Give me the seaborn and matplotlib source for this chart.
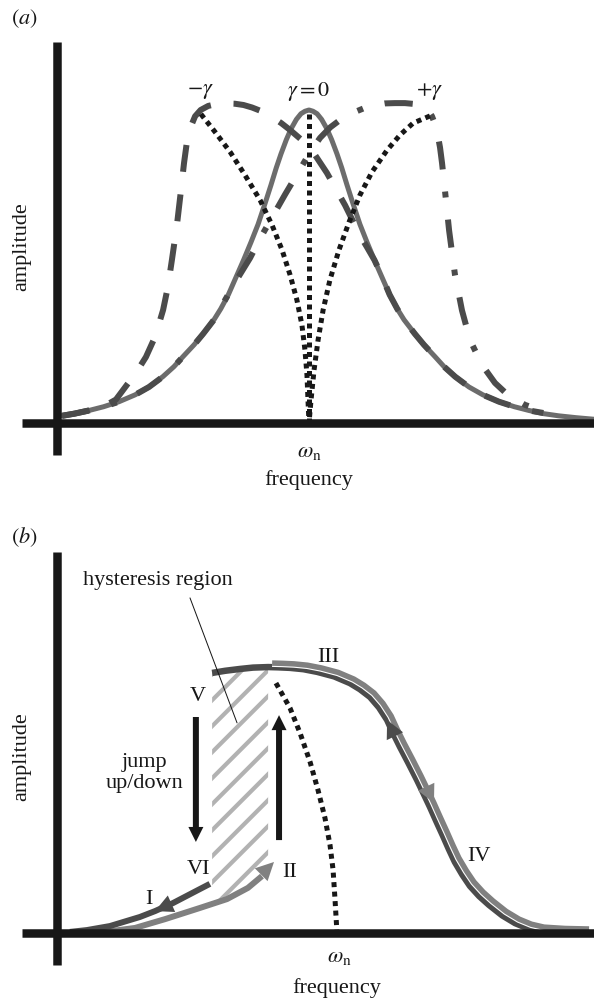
import numpy as np
import matplotlib
matplotlib.use("Agg")
import matplotlib.pyplot as plt
import matplotlib.transforms as mtransforms
from matplotlib import patheffects as pe
from matplotlib.patches import Polygon
from matplotlib.lines import Line2D
import seaborn as sns

# ---------------- (a) resonance curves: linear, softening, hardening ----------------
# frequency in units of the natural frequency, amplitude in units of the linear peak
lin_freq = [0.02, 0.07, 0.127, 0.185, 0.246, 0.31, 0.365, 0.42, 0.464, 0.50,
            0.544, 0.58, 0.623, 0.65, 0.68, 0.71, 0.74, 0.77, 0.798, 0.825,
            0.849, 0.87, 0.889, 0.91, 0.929, 0.95, 0.968, 0.984, 1.0,
            1.016, 1.032, 1.05, 1.071, 1.09, 1.111, 1.13, 1.151, 1.175, 1.202,
            1.23, 1.26, 1.29, 1.32, 1.35, 1.377, 1.42, 1.456, 1.50, 1.536,
            1.58, 1.635, 1.69, 1.754, 1.815, 1.873, 1.93, 1.99, 2.06, 2.13]
lin_amp = [0.023, 0.030, 0.040, 0.052, 0.068, 0.090, 0.115, 0.148, 0.180, 0.212,
           0.250, 0.285, 0.330, 0.365, 0.410, 0.465, 0.520, 0.578, 0.635, 0.700,
           0.760, 0.815, 0.860, 0.905, 0.940, 0.970, 0.988, 0.996, 1.0,
           0.996, 0.988, 0.970, 0.940, 0.905, 0.860, 0.815, 0.760, 0.700, 0.635,
           0.578, 0.520, 0.465, 0.410, 0.365, 0.330, 0.285, 0.250, 0.212, 0.180,
           0.148, 0.115, 0.090, 0.068, 0.052, 0.040, 0.030, 0.023, 0.017, 0.012]

soft_freq = [0.02, 0.07, 0.127, 0.179, 0.234, 0.286, 0.325, 0.353, 0.389, 0.421,
             0.440, 0.456, 0.476, 0.492, 0.504, 0.515, 0.530, 0.548, 0.570, 0.600,
             0.627, 0.665, 0.706, 0.740, 0.774, 0.815, 0.853, 0.890, 0.925, 0.970,
             1.016, 1.071, 1.143, 1.202, 1.23, 1.26, 1.29, 1.32, 1.35, 1.377,
             1.42, 1.456, 1.50, 1.536, 1.58, 1.635, 1.69, 1.754, 1.815, 1.873,
             1.93]
soft_amp = [0.023, 0.030, 0.040, 0.050, 0.075, 0.131, 0.175, 0.211, 0.275, 0.361,
            0.435, 0.521, 0.633, 0.744, 0.830, 0.895, 0.945, 0.980, 1.000, 1.013,
            1.018, 1.021, 1.020, 1.016, 1.008, 0.995, 0.978, 0.958, 0.936, 0.905,
            0.866, 0.799, 0.696, 0.600, 0.562, 0.520, 0.468, 0.410, 0.365, 0.330,
            0.285, 0.250, 0.212, 0.180, 0.148, 0.115, 0.090, 0.068, 0.052, 0.040,
            0.032]

hard_freq = [0.02, 0.07, 0.127, 0.185, 0.246, 0.31, 0.365, 0.42, 0.464, 0.50,
             0.544, 0.58, 0.623, 0.645, 0.667, 0.715, 0.766, 0.805, 0.845, 0.905,
             0.964, 1.004, 1.044, 1.085, 1.123, 1.183, 1.222, 1.262, 1.300, 1.341,
             1.381, 1.421, 1.447, 1.472, 1.488, 1.500, 1.511, 1.520, 1.528, 1.536,
             1.556, 1.579, 1.607, 1.639, 1.687, 1.738, 1.790, 1.857, 1.937]
hard_amp = [0.023, 0.030, 0.040, 0.052, 0.068, 0.090, 0.115, 0.148, 0.180, 0.212,
            0.250, 0.285, 0.330, 0.360, 0.393, 0.460, 0.527, 0.588, 0.645, 0.730,
            0.810, 0.865, 0.911, 0.945, 0.968, 0.994, 1.007, 1.016, 1.021, 1.022,
            1.022, 1.019, 1.013, 1.000, 0.980, 0.955, 0.920, 0.880, 0.830, 0.770,
            0.615, 0.475, 0.360, 0.265, 0.185, 0.128, 0.089, 0.058, 0.035]

# backbone curves
bb_soft_freq = [0.571, 0.627, 0.687, 0.746, 0.806, 0.853, 0.893, 0.925, 0.952, 0.972,
                0.984, 0.992, 0.996, 1.0]
bb_soft_amp = [0.987, 0.930, 0.866, 0.792, 0.712, 0.633, 0.553, 0.473, 0.393, 0.313,
               0.233, 0.153, 0.073, 0.0]
bb_lin_freq = [1.0, 1.0]
bb_lin_amp = [0.0, 0.99]
bb_hard_freq = [1.480, 1.413, 1.361, 1.310, 1.250, 1.202, 1.159, 1.119, 1.083, 1.056,
                1.036, 1.020, 1.008, 1.0]
bb_hard_amp = [0.981, 0.958, 0.920, 0.872, 0.802, 0.728, 0.642, 0.553, 0.457, 0.361,
               0.265, 0.169, 0.073, 0.0]

curve_labels = [r"$-\gamma$", r"$\gamma = 0$", r"$+\gamma$"]

# ---------------- (b) hysteresis of a hardening resonator ----------------
# downward sweep, upper branch (from high frequency back to the jump-down point V)
down_top_freq = [1.886, 1.80, 1.725, 1.68, 1.636, 1.59, 1.543, 1.508, 1.475, 1.448,
                 1.421, 1.40, 1.379, 1.355, 1.332, 1.309, 1.286, 1.255, 1.225, 1.20,
                 1.179, 1.15, 1.118, 1.082, 1.046, 0.990, 0.929, 0.880, 0.832, 0.790,
                 0.754, 0.70, 0.654, 0.60, 0.554]
down_top_amp = [0.0, 0.002, 0.007, 0.018, 0.037, 0.066, 0.105, 0.138, 0.176, 0.218,
                0.266, 0.313, 0.363, 0.418, 0.472, 0.523, 0.573, 0.637, 0.697, 0.750,
                0.798, 0.845, 0.884, 0.913, 0.936, 0.961, 0.978, 0.988, 0.993, 0.995,
                0.996, 0.994, 0.989, 0.982, 0.974]
# downward sweep, lower branch (VI -> I)
down_low_freq = [0.546, 0.511, 0.414, 0.350, 0.296, 0.189, 0.107, 0.046]
down_low_amp = [0.184, 0.165, 0.112, 0.082, 0.060, 0.026, 0.011, 0.004]
# upward sweep, lower branch (I -> II)
up_low_freq = [0.171, 0.279, 0.386, 0.511, 0.607, 0.682, 0.732, 0.775]
up_low_amp = [0.004, 0.019, 0.052, 0.094, 0.127, 0.169, 0.213, 0.266]
# upward sweep joins the upper branch at III
up_join_freq = 0.754

# backbone
bb_b_freq = [0.782, 0.832, 0.868, 0.904, 0.932, 0.957, 0.975, 0.986, 0.993, 1.0]
bb_b_amp = [0.936, 0.843, 0.749, 0.640, 0.536, 0.431, 0.330, 0.236, 0.124, 0.0]

# bistable (hysteresis) region
hyst_freq = [0.554, 0.607, 0.654, 0.682, 0.732, 0.754]
hyst_low = [0.108, 0.127, 0.150, 0.169, 0.213, 0.236]
hyst_high = [0.974, 0.981, 0.989, 0.992, 0.995, 0.996]

# jumps: down at V -> VI, up at II -> III
jump_freq = [0.496, 0.793]
jump_from = [0.809, 0.348]
jump_to = [0.341, 0.816]

# ---------------- style ----------------
sns.set_theme(style="white")
plt.rcParams["font.family"] = ["Liberation Serif", "DejaVu Serif"]
plt.rcParams["mathtext.fontset"] = "stix"

W, H, DPI = 594, 1001, 100
PX = 72 / DPI  # points per pixel
FS = 16

INK = "#171717"
DARK = "#4b4b4b"
MID = "#6c6c6c"
LIGHT = "#808080"
HATCH = "#b2b2b2"

fig = plt.figure(figsize=(W / DPI, H / DPI), dpi=DPI)


def panel(top, bottom, origin, unit, axis_top, axis_bottom):
    """Axes spanning the figure width; origin/unit place the crossing axes."""
    ox, oy = origin
    ux, uy = unit
    ax = fig.add_axes([0, 1 - bottom / H, 1, (bottom - top) / H])
    ax.set_xlim(-ox / ux, (W - ox) / ux)
    ax.set_ylim((oy - bottom) / uy, (oy - top) / uy)
    ax.set_xticks([])
    ax.set_yticks([])
    ax.patch.set_alpha(0)
    for side in ("top", "right"):
        ax.spines[side].set_visible(False)
    for side in ("left", "bottom"):
        sp = ax.spines[side]
        sp.set_position(("data", 0))
        sp.set_linewidth(8.5 * PX)
        sp.set_color(INK)
        sp.set_capstyle("butt")
        sp.set_zorder(5)
    ax.spines["left"].set_bounds((oy - axis_bottom) / uy, (oy - axis_top) / uy)
    ax.spines["bottom"].set_bounds((22 - ox) / ux, (W - ox) / ux)
    return ax


def line(ax, x, y, **kw):
    sns.lineplot(x=x, y=y, ax=ax, estimator=None, sort=False, legend=False, **kw)
    return ax.lines[-1]


def head(ax, p_from, p_to, color, coords="data"):
    ax.annotate("", xy=p_to, xytext=p_from, xycoords=coords, textcoords=coords,
                arrowprops=dict(arrowstyle="-|>,head_length=13,head_width=6.5",
                                mutation_scale=1, color=color, lw=0,
                                shrinkA=0, shrinkB=0), zorder=6)


# ======================= panel (a) =======================
ax_a = panel(30, 470, (57, 423), (252, 313), 42, 455)

line(ax_a, lin_freq, lin_amp, color=MID, linewidth=5 * PX, zorder=2)
line(ax_a, soft_freq, soft_amp, color=DARK, linewidth=6 * PX,
     linestyle=(0, (4.5, 3.8)), dash_capstyle="butt", zorder=3)
line(ax_a, hard_freq, hard_amp, color=DARK, linewidth=6 * PX,
     linestyle=(0, (4.7, 3.7, 1.0, 3.7)), dash_capstyle="butt", zorder=3)
for bx, by in ((bb_soft_freq, bb_soft_amp), (bb_lin_freq, bb_lin_amp),
               (bb_hard_freq, bb_hard_amp)):
    line(ax_a, bx, by, color=INK, linewidth=5 * PX,
         linestyle=(0, (1.0, 0.9)), dash_capstyle="butt", zorder=4)

for fx, txt in zip([bb_soft_freq[0], bb_lin_freq[0], bb_hard_freq[0]], curve_labels):
    ax_a.text(fx, 1.06, txt, ha="center", va="center", fontsize=FS, color=INK)

ax_a.text(1.0, -0.093, r"$\omega_{\mathrm{n}}$", ha="center", va="center",
          fontsize=FS, color=INK)
ax_a.text(1.0, -0.182, "frequency", ha="center", va="center", fontsize=FS, color=INK)
ax_a.text(-0.139, 0.562, "amplitude", ha="center", va="center", rotation=90,
          fontsize=FS, color=INK)
fig.text(24 / W, 1 - 19 / H, r"$(a)$", ha="center", va="center", fontsize=FS, color=INK)

# ======================= panel (b) =======================
ax_b = panel(540, 1000, (57, 933), (280, 267), 552, 965)

# hatched hysteresis region
verts = np.column_stack([np.r_[hyst_freq, hyst_freq[::-1]],
                         np.r_[hyst_low, hyst_high[::-1]]])
region = Polygon(verts, closed=True, facecolor="none", edgecolor="none")
ax_b.add_patch(region)
disp = ax_b.transData.transform(verts)
(x0, y0), (x1, y1) = disp.min(axis=0), disp.max(axis=0)
period = 26.0
for b in np.arange(y0 - (x1 - x0) - period, y1 + period, period):
    stripe = Line2D([x0 - 10, x1 + 10], [b - 10, b + (x1 - x0) + 10],
                    transform=mtransforms.IdentityTransform(), color=HATCH,
                    linewidth=4.2 * PX, solid_capstyle="butt", zorder=1)
    stripe.set_clip_path(region)
    ax_b.add_artist(stripe)

line(ax_b, bb_b_freq, bb_b_amp, color=INK, linewidth=5 * PX,
     linestyle=(0, (1.0, 0.9)), dash_capstyle="butt", zorder=2)

# downward sweep (dark)
line(ax_b, down_top_freq, down_top_amp, color=DARK, linewidth=6.5 * PX,
     solid_capstyle="butt", zorder=3)
line(ax_b, down_low_freq, down_low_amp, color=DARK, linewidth=6 * PX,
     solid_capstyle="butt", zorder=3)

# upward sweep (light), drawn alongside the upper branch
shift = mtransforms.ScaledTranslation(4 / DPI, 4 / DPI, fig.dpi_scale_trans)
up_trans = ax_b.transData + shift
mask = np.array(down_top_freq) >= up_join_freq
ln = line(ax_b, np.array(down_top_freq)[mask], np.array(down_top_amp)[mask],
          color=LIGHT, linewidth=5.5 * PX, solid_capstyle="butt", zorder=4)
ln.set_transform(up_trans)
ln.set_path_effects([pe.Stroke(linewidth=5.5 * PX + 1.6, foreground="white"), pe.Normal()])
line(ax_b, up_low_freq[:-1], up_low_amp[:-1], color=LIGHT, linewidth=6 * PX,
     solid_capstyle="butt", zorder=2.5)

# direction heads
i_dn = down_top_freq.index(1.225)
i_up = down_top_freq.index(1.286)
head(ax_b, (down_top_freq[i_dn], down_top_amp[i_dn]),
     (down_top_freq[i_dn + 2], down_top_amp[i_dn + 2]), DARK)
head(ax_b, (down_low_freq[2], down_low_amp[2]), (down_low_freq[3], down_low_amp[3]), DARK)
head(ax_b, (down_top_freq[i_up], down_top_amp[i_up]),
     (down_top_freq[i_up - 2], down_top_amp[i_up - 2]), LIGHT, coords=up_trans)
head(ax_b, (up_low_freq[-3], up_low_amp[-3]), (up_low_freq[-1], up_low_amp[-1]), LIGHT)

# jump arrows
for fx, a0, a1 in zip(jump_freq, jump_from, jump_to):
    ax_b.arrow(fx, a0, 0, a1 - a0, width=6 / 280, head_width=15 / 280,
               head_length=15 / 267, length_includes_head=True,
               color=INK, lw=0, zorder=5)

# labels
ax_b.text(0.361, 1.322, "hysteresis region", ha="center", va="center",
          fontsize=FS, color=INK)
ax_b.plot([0.475, 0.643], [1.255, 0.787], color=INK, linewidth=1.0 * PX, zorder=6)
for (lx, ly), txt in zip([(0.504, 0.884), (0.507, 0.236), (0.329, 0.127),
                          (0.832, 0.225), (0.968, 1.030), (1.507, 0.285)],
                         ["V", "VI", "I", "II", "III", "IV"]):
    ax_b.text(lx, ly, txt, ha="center", va="center", fontsize=FS, color=INK)
ax_b.text(0.314, 0.600, "jump\nup/down", ha="center", va="center",
          multialignment="center", linespacing=1.12, fontsize=FS, color=INK)

ax_b.text(1.01, -0.09, r"$\omega_{\mathrm{n}}$", ha="center", va="center",
          fontsize=FS, color=INK)
ax_b.text(1.0, -0.206, "frequency", ha="center", va="center", fontsize=FS, color=INK)
ax_b.text(-0.125, 0.659, "amplitude", ha="center", va="center", rotation=90,
          fontsize=FS, color=INK)
fig.text(24 / W, 1 - 537 / H, r"$(b)$", ha="center", va="center", fontsize=FS, color=INK)

fig.savefig("out.png", dpi=DPI, facecolor="white")
